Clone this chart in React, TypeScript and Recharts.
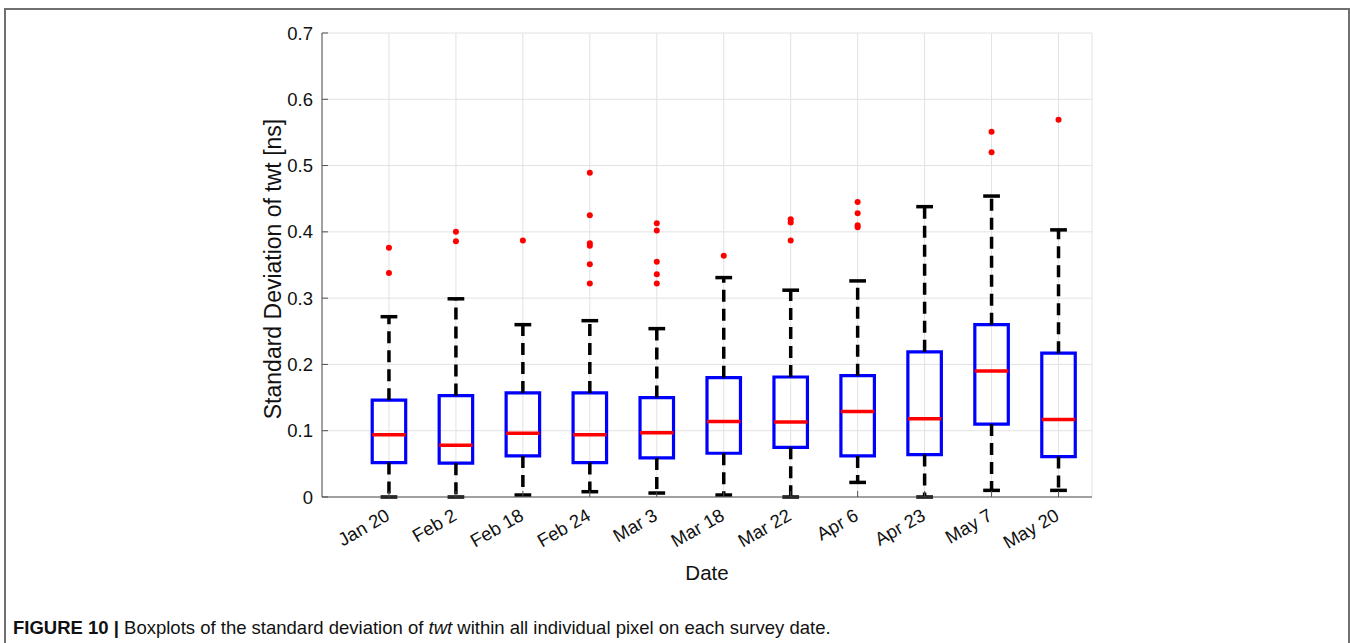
import {
  ComposedChart, XAxis, YAxis, CartesianGrid, ReferenceArea, ReferenceLine, Scatter,
} from 'recharts'

const dates = ['Jan 20', 'Feb 2', 'Feb 18', 'Feb 24', 'Mar 3', 'Mar 18', 'Mar 22', 'Apr 6', 'Apr 23', 'May 7', 'May 20']
const whiskerLow = [0, 0, 0.003, 0.008, 0.006, 0.003, 0, 0.022, 0, 0.01, 0.01]
const q1 = [0.052, 0.051, 0.062, 0.052, 0.059, 0.066, 0.075, 0.062, 0.064, 0.11, 0.061]
const median = [0.094, 0.078, 0.096, 0.094, 0.097, 0.114, 0.113, 0.129, 0.118, 0.19, 0.117]
const q3 = [0.146, 0.153, 0.157, 0.157, 0.15, 0.18, 0.181, 0.183, 0.219, 0.26, 0.217]
const whiskerHigh = [0.272, 0.299, 0.26, 0.266, 0.254, 0.331, 0.312, 0.326, 0.438, 0.454, 0.403]
const outliers: number[][] = [
  [0.376, 0.338],
  [0.4, 0.386],
  [0.387],
  [0.489, 0.425, 0.383, 0.379, 0.351, 0.322],
  [0.413, 0.402, 0.355, 0.336, 0.322],
  [0.364],
  [0.419, 0.414, 0.387],
  [0.445, 0.428, 0.41, 0.407],
  [],
  [0.551, 0.52],
  [0.569],
]
const yTicks = [0, 0.1, 0.2, 0.3, 0.4, 0.5, 0.6, 0.7]

const FONT = '"Liberation Sans", Arial, Helvetica, sans-serif'
const AXIS = '#505050'
const BOX_HALF = 0.25
const CAP_HALF = 0.125

const positions = dates.map((_, i) => i + 1)
const outlierPoints = outliers.flatMap((vals, i) => vals.map((y) => ({ x: i + 1, y })))

function DateTick({ x, y, payload }: any) {
  const label = dates[payload.value - 1]
  return (
    <text
      x={x + 2}
      y={y}
      textAnchor="end"
      transform={`rotate(-30, ${x + 2}, ${y})`}
      fontSize={18.5}
      fontFamily={FONT}
      fill="#111"
    >
      {label}
    </text>
  )
}

function YTitle({ viewBox }: any) {
  const cx = viewBox.x + 11
  const cy = viewBox.y + viewBox.height / 2 + 4
  return (
    <text
      x={cx}
      y={cy}
      textAnchor="middle"
      dominantBaseline="central"
      transform={`rotate(-90, ${cx}, ${cy})`}
      fontSize={23}
      fontFamily={FONT}
      fill="#111"
    >
      Standard Deviation of twt [ns]
    </text>
  )
}

export default function App() {
  return (
    <div style={{ position: 'absolute', left: 0, top: 0, width: 1350, height: 643, background: '#fff', overflow: 'hidden', fontFamily: FONT }}>
      {/* figure frame, open at the bottom */}
      <div style={{ position: 'absolute', left: 4, top: 8, width: 1342, height: 700, border: '2px solid #707070', borderBottom: 'none' }} />

      <div style={{ position: 'absolute', left: 0, top: 0 }}>
        <ComposedChart width={1350} height={600} margin={{ top: 33, right: 258, bottom: 13, left: 262 }}>
          <CartesianGrid stroke="#e2e2e2" strokeWidth={1} />
          <XAxis
            dataKey="x"
            type="number"
            domain={[0, 11.5]}
            ticks={positions}
            allowDataOverflow
            height={90}
            stroke={AXIS}
            tickSize={-6}
            tickMargin={28}
            tick={<DateTick />}
            label={{ value: 'Date', position: 'insideBottom', offset: 7, fontSize: 20.5, fontFamily: FONT, fill: '#111' }}
          />
          <XAxis xAxisId="top" orientation="top" type="number" domain={[0, 11.5]} ticks={positions} allowDataOverflow height={0} stroke={AXIS} tickSize={-6} tick={false} />
          <YAxis
            type="number"
            domain={[0, 0.7]}
            ticks={yTicks}
            allowDataOverflow
            width={60}
            stroke={AXIS}
            tickSize={-6}
            tickMargin={15}
            tickFormatter={(v: number) => (v === 0 ? '0' : v.toFixed(1))}
            tick={{ fontSize: 18.5, fontFamily: FONT, fill: '#111' }}
            label={{ content: <YTitle /> }}
          />
          <YAxis yAxisId="right" orientation="right" type="number" domain={[0, 0.7]} ticks={yTicks} allowDataOverflow width={0} stroke={AXIS} tickSize={-6} tick={false} />

          {/* whiskers */}
          {positions.map((x, i) => (
            <ReferenceLine key={`wu${i}`} segment={[{ x, y: q3[i] }, { x, y: whiskerHigh[i] }]} stroke="#000" strokeWidth={3.5} strokeDasharray="12 7" ifOverflow="visible" />
          ))}
          {positions.map((x, i) => (
            <ReferenceLine key={`wl${i}`} segment={[{ x, y: q1[i] }, { x, y: whiskerLow[i] }]} stroke="#000" strokeWidth={3.5} strokeDasharray="12 7" ifOverflow="visible" />
          ))}
          {/* caps */}
          {positions.map((x, i) => (
            <ReferenceLine key={`cu${i}`} segment={[{ x: x - CAP_HALF, y: whiskerHigh[i] }, { x: x + CAP_HALF, y: whiskerHigh[i] }]} stroke="#000" strokeWidth={3.5} ifOverflow="visible" />
          ))}
          {positions.map((x, i) => (
            <ReferenceLine key={`cl${i}`} segment={[{ x: x - CAP_HALF, y: whiskerLow[i] }, { x: x + CAP_HALF, y: whiskerLow[i] }]} stroke="#000" strokeWidth={3.5} ifOverflow="visible" />
          ))}
          {/* boxes */}
          {positions.map((x, i) => (
            <ReferenceArea key={`b${i}`} x1={x - BOX_HALF} x2={x + BOX_HALF} y1={q1[i]} y2={q3[i]} fill="#fff" fillOpacity={0} stroke="#0000ff" strokeWidth={3.2} strokeOpacity={1} ifOverflow="visible" />
          ))}
          {/* medians */}
          {positions.map((x, i) => (
            <ReferenceLine key={`m${i}`} segment={[{ x: x - BOX_HALF, y: median[i] }, { x: x + BOX_HALF, y: median[i] }]} stroke="#ff0000" strokeWidth={3.5} ifOverflow="visible" />
          ))}
          <Scatter
            data={outlierPoints}
            dataKey="y"
            isAnimationActive={false}
            shape={(p: any) => <circle cx={p.cx} cy={p.cy} r={3} fill="#ff0000" />}
          />
        </ComposedChart>
      </div>

      <div style={{ position: 'absolute', left: 13, top: 618, fontSize: 18.5, lineHeight: '20px', color: '#111', whiteSpace: 'nowrap' }}>
        <b>FIGURE 10 |</b> Boxplots of the standard deviation of <i>twt</i> within all individual pixel on each survey date.
      </div>
    </div>
  )
}
